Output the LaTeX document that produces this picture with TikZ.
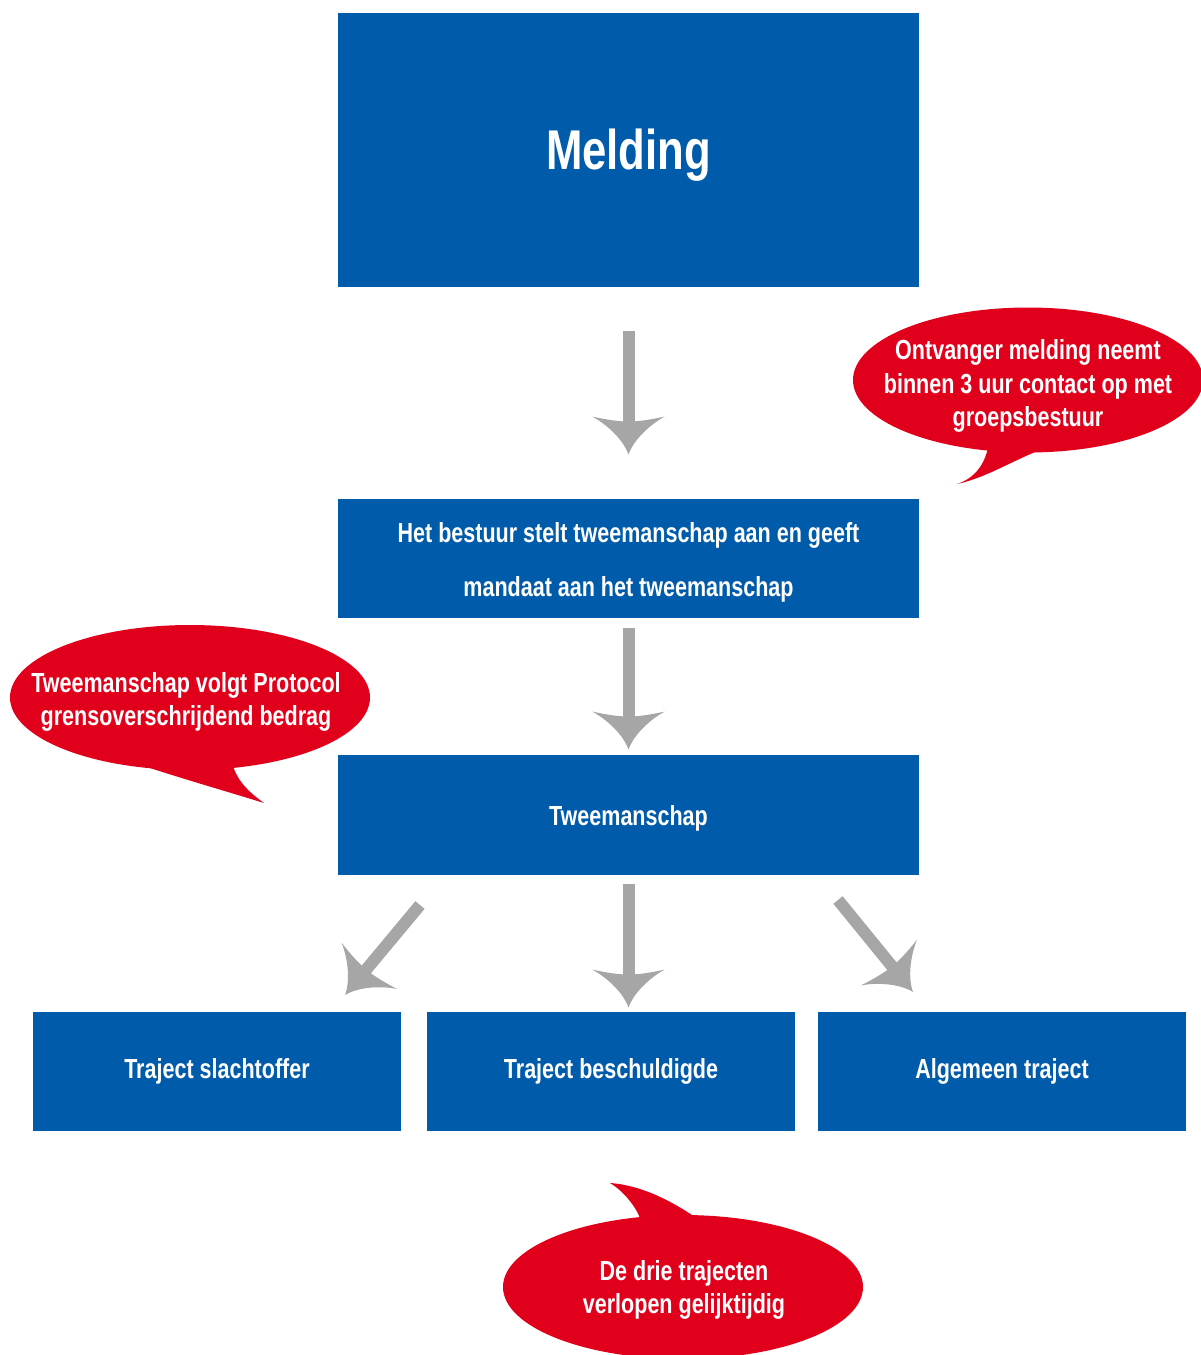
\documentclass[tikz,border=0pt]{standalone}
\usepackage{fontspec}
\setmainfont[FakeStretch=0.78]{Liberation Sans}
\usetikzlibrary{arrows.meta}

\definecolor{boxblue}{HTML}{005BAA}
\definecolor{bubred}{HTML}{E0001B}
\definecolor{arrgray}{HTML}{A6A6A6}

\pgfdeclarearrow{
  name = Curvy,
  parameters = {\the\pgfarrowlength},
  setup code = {
    \pgfarrowssettipend{0pt}
    \pgfarrowssetlineend{-0.7\pgfarrowlength}
    \pgfarrowssetbackend{-\pgfarrowlength}
    \pgfarrowssetvisualbackend{-0.87\pgfarrowlength}
    \pgfarrowsupperhullpoint{0pt}{0pt}
    \pgfarrowsupperhullpoint{-\pgfarrowlength}{0.95\pgfarrowlength}
    \pgfarrowssavethe\pgfarrowlength
  },
  drawing code = {
    \pgfpathmoveto{\pgfqpoint{0pt}{0pt}}
    \pgfpathcurveto{\pgfqpoint{-0.35\pgfarrowlength}{0.12\pgfarrowlength}}{\pgfqpoint{-0.75\pgfarrowlength}{0.5\pgfarrowlength}}{\pgfqpoint{-\pgfarrowlength}{0.95\pgfarrowlength}}
    \pgfpathcurveto{\pgfqpoint{-0.9\pgfarrowlength}{0.5\pgfarrowlength}}{\pgfqpoint{-0.87\pgfarrowlength}{0.2\pgfarrowlength}}{\pgfqpoint{-0.87\pgfarrowlength}{0pt}}
    \pgfpathcurveto{\pgfqpoint{-0.87\pgfarrowlength}{-0.2\pgfarrowlength}}{\pgfqpoint{-0.9\pgfarrowlength}{-0.5\pgfarrowlength}}{\pgfqpoint{-\pgfarrowlength}{-0.95\pgfarrowlength}}
    \pgfpathcurveto{\pgfqpoint{-0.75\pgfarrowlength}{-0.5\pgfarrowlength}}{\pgfqpoint{-0.35\pgfarrowlength}{-0.12\pgfarrowlength}}{\pgfqpoint{0pt}{0pt}}
    \pgfpathclose
    \pgfusepathqfill
  },
  defaults = {length = 19pt}
}

\begin{document}
\begin{tikzpicture}[x=0.5pt,y=-0.5pt,
  box/.style={fill=boxblue, draw=none, text=white, inner sep=0pt,
    font=\bfseries\fontsize{13.8}{27}\selectfont, align=center},
  bigbox/.style={box, minimum width=290.5pt},
  smallbox/.style={box, minimum width=184pt, minimum height=59.5pt},
  boxtext/.style={text=white, inner sep=0pt, align=center,
    font=\bfseries\fontsize{13.8}{27}\selectfont},
  conn/.style={color=arrgray, line width=6pt, -{Curvy}},
  bubtext/.style={text=white, inner sep=0pt, align=center,
    font=\bfseries\fontsize{13.8}{16.75}\selectfont},
  bub/.style={fill=bubred}
]
\useasboundingbox (0,0) rectangle (1200,1355);

% boxes
\node[bigbox, minimum height=137pt] (melding) at (628.5,150) {};
\node[boxtext, font=\bfseries\fontsize{28}{34}\selectfont] (meldingtxt) at ([yshift=-2.5pt]melding.center) {Melding};
\node[bigbox, minimum height=59.5pt] (bestuur) at (628.5,558.5) {};
\node[boxtext] (bestuurtxt) at ([yshift=-2pt]bestuur.center) {Het bestuur stelt tweemanschap aan en geeft\\mandaat aan het tweemanschap};
\node[bigbox, minimum height=60pt] (tween) at (628.5,815) {};
\node[boxtext] (tweentxt) at ([yshift=-1.5pt]tween.center) {Tweemanschap};
\node[smallbox] (slacht) at (217,1071.5) {Traject slachtoffer};
\node[smallbox] (beschuld) at (611,1071.5) {Traject beschuldigde};
\node[smallbox] (algemeen) at (1002,1071.5) {Algemeen traject};

% arrows
\draw[conn, shorten <=22pt, shorten >=22pt] (melding.south) -- (bestuur.north);
\draw[conn, shorten <=5pt, shorten >=2.5pt] (bestuur.south) -- (tween.north);
\draw[conn, shorten <=4.5pt, shorten >=2pt] (tween.south) -- (tween.south |- beschuld.north);
\coordinate (d1s) at (420,905);
\coordinate (d1e) at (345,995);
\coordinate (d2s) at (838,900);
\coordinate (d2e) at (913,992);
\draw[conn] (d1s) -- (d1e);
\draw[conn] (d2s) -- (d2e);

% bubble 1
\fill[bub] (1028,380) ellipse [x radius=87.5pt, y radius=36.25pt];
\fill[bub] (988,445) -- (988,448) .. controls (984,465) and (975,478) .. (957,484)
  .. controls (985,478) and (1010,462) .. (1040,450) -- (1040,440) -- cycle;
\node[bubtext] (bub1) at (1028,386) {Ontvanger melding neemt\\binnen 3 uur contact op met\\groepsbestuur};

% bubble 2
\fill[bub] (190,697.5) ellipse [x radius=90pt, y radius=36.25pt];
\fill[bub] (150,765) -- (150,768) .. controls (190,781) and (232,793) .. (264,803)
  .. controls (250,793) and (238,782) .. (233,766) -- (233,755) -- cycle;
\node[bubtext] (bub2) at (186,702) {Tweemanschap volgt Protocol\\grensoverschrijdend bedrag};

% bubble 3
\fill[bub] (683,1287) ellipse [x radius=90pt, y radius=36pt];
\fill[bub] (640,1225) -- (640,1218) .. controls (635,1205) and (622,1190) .. (610,1183)
  .. controls (640,1185) and (670,1200) .. (695,1217) -- (695,1225) -- cycle;
\node[bubtext] (bub3) at (684,1290) {De drie trajecten\\verlopen gelijktijdig};
\end{tikzpicture}
\end{document}
